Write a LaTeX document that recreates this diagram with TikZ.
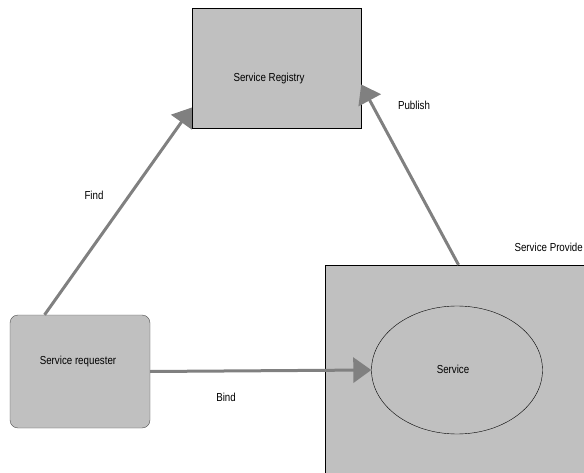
\documentclass[tikz,border=0pt]{standalone}
\usepackage{fontspec}
\setmainfont[FakeStretch=0.84]{Liberation Sans}
\usetikzlibrary{arrows.meta}
\usetikzlibrary{shapes.geometric}
\definecolor{boxgray}{HTML}{C0C0C0}
\definecolor{arrowgray}{HTML}{808080}
\definecolor{edgegray}{HTML}{505050}

\begin{document}
\begin{tikzpicture}[x=1pt,y=-1pt,font=\fontsize{11.6}{13}\selectfont,
	box/.style={draw=black,fill=boxgray,inner sep=0pt},
	link/.style={draw=arrowgray,line width=3pt,
		-{Triangle[length=18pt,width=25pt,fill=arrowgray]}}]
\useasboundingbox (0,0) rectangle (584,473);
%\draw[red] (0,0) rectangle (584,473);
\node[box,minimum width=169pt,minimum height=120pt] (registry) at (276.5,68) {};
\node[box,draw=edgegray,rounded corners=8pt,minimum width=140pt,minimum height=113pt] (requester) at (80,371.5) {};
\node[box,minimum width=275pt,minimum height=215pt] (provider) at (462.5,372.5) {};
\node[draw=black,ellipse,inner sep=0pt,minimum width=171pt,minimum height=128pt] (service) at (457,370) {};
% texts
\node (registrytext) at (269,79) {Service Registry};
\node (requestertext) at (78,362) {Service requester};
\node (servicetext) at (453,369) {Service};
\node[anchor=east,inner sep=1pt] (providertext) at (584,247) {Service Provide};
% connectors
\draw[link] (requester.122) -- (registry.205);
\draw[link] (provider.north) ++(-4,0) -- (registry.-11);
\draw[link] (requester.east) -- (service.west);
\node (find) at (94,195) {Find};
\node (publish) at (414,105) {Publish};
\node (bind) at (226,397) {Bind};
\end{tikzpicture}
\end{document}
